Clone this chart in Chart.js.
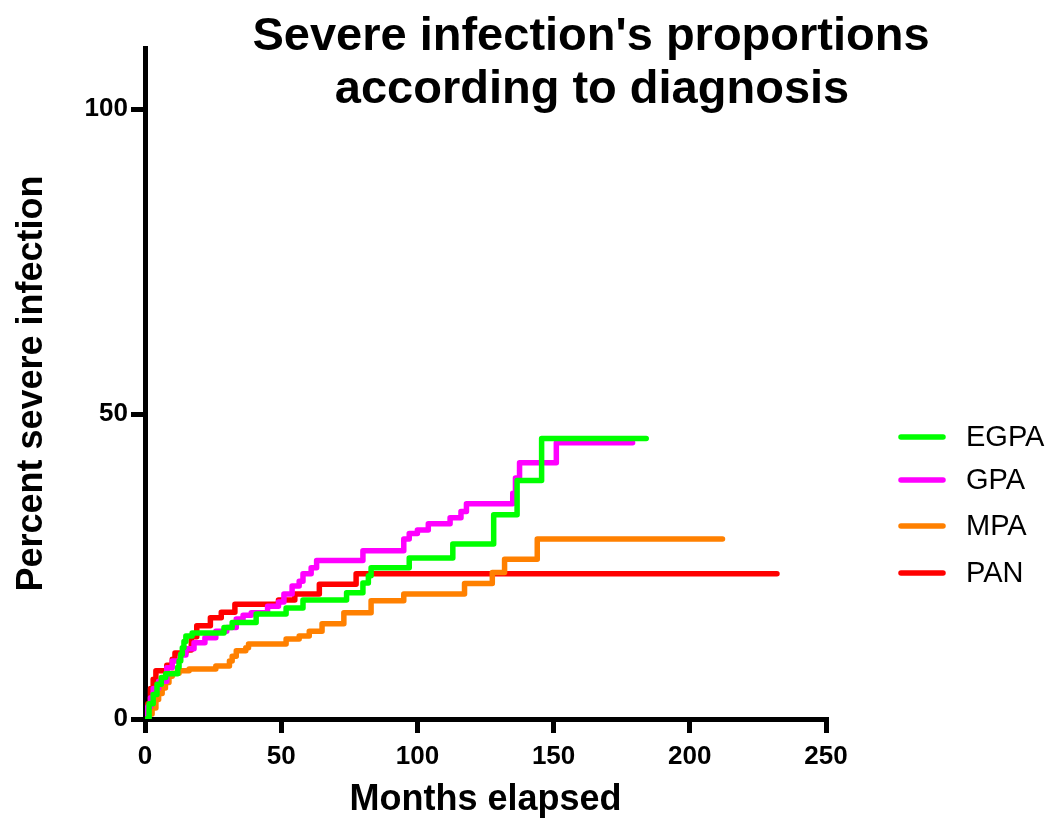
<!DOCTYPE html>
<html>
<head>
<meta charset="utf-8">
<title>Severe infection's proportions according to diagnosis</title>
<script src="https://cdn.jsdelivr.net/npm/chart.js@4.4.1/dist/chart.umd.min.js"></script>
<style>
  html, body { margin: 0; padding: 0; background: #fff; }
  #wrap { width: 1057px; height: 823px; }
</style>
</head>
<body>
<div id="wrap"><canvas id="grafico" width="1057" height="823"></canvas></div>
<script>
// Datos (meses, porcentaje acumulado)
const egpaMonths  = [0, 1.5, 3, 4.4, 6, 7.6, 12, 12.5, 13.1, 13.7, 14.3, 15, 17.3, 29, 32, 40.8, 51.8, 58, 74, 80, 82, 83, 97, 113, 128, 136.6, 145.6, 184];
const egpaPercent = [0, 2.5, 4, 5.7, 6.8, 7.4, 8.5, 9.5, 10.6, 11.7, 12.7, 13.6, 14.1, 15, 15.8, 17.2, 18.2, 19.5, 20.7, 22.3, 23.5, 24.8, 26.4, 28.7, 33.5, 39.1, 46, 46];

const gpaMonths  = [0, 1, 2, 3, 5, 8, 10, 13, 15, 18, 22, 26, 30, 33.5, 36, 39, 45, 49, 51, 54, 56.6, 58, 61, 63, 80, 95, 97, 100, 104, 112, 116, 118, 135, 136, 137.5, 151, 179];
const gpaPercent = [0, 2, 3.5, 5, 6.2, 8.4, 9.5, 10.5, 11.5, 12.5, 13.3, 14.4, 15, 16.4, 17, 17.4, 18.5, 19.2, 20.5, 21.8, 22.6, 23.8, 24.8, 26, 27.6, 29.5, 30.4, 31, 32, 33, 34, 35.3, 37, 39.5, 42, 45.3, 45.3];

const mpaMonths  = [0, 1, 2.6, 4, 5, 6.3, 7.5, 8.8, 10, 12.5, 16.2, 26, 31, 32, 33.5, 37, 38, 51.8, 56.6, 60.3, 65, 73, 83, 95, 117.3, 127.5, 132, 144, 212];
const mpaPercent = [0, 0.8, 1.8, 3.2, 4.2, 5.1, 6, 7, 7.5, 7.9, 8.2, 8.7, 9.5, 10.3, 11.2, 11.7, 12.3, 13.1, 13.6, 14.4, 15.6, 17.4, 19.4, 20.5, 22.2, 24, 26.2, 29.5, 29.5];

const panMonths  = [0, 1, 2, 3, 4, 8, 10, 11, 15, 17, 19, 24, 28, 33, 49, 55, 64, 77.5, 232];
const panPercent = [0, 2.5, 5, 6.5, 7.9, 8.8, 9.8, 10.8, 11.3, 13.5, 15.3, 16.6, 17.5, 18.8, 19.5, 20.5, 22.1, 23.8, 23.8];

const xTicks = [0, 50, 100, 150, 200, 250];
const yTicks = [0, 50, 100];

const fuente = "'Liberation Sans', Arial, Helvetica, sans-serif";

function puntos(meses, valores) {
  return meses.map((m, i) => ({ x: m, y: valores[i] }));
}

function serie(label, color, meses, valores) {
  return {
    label: label,
    data: puntos(meses, valores),
    borderColor: color,
    backgroundColor: color,
    borderWidth: 5.5,
    stepped: true,
    pointRadius: 0,
    borderCapStyle: "round",
    borderJoinStyle: "round",
    fill: false
  };
}

// Titulo en dos lineas, centrado como en el original
const tituloPlugin = {
  id: "tituloPlugin",
  afterDraw(chart) {
    const ctx = chart.ctx;
    ctx.save();
    ctx.fillStyle = "#000";
    ctx.font = "bold 47px " + fuente;
    ctx.textAlign = "center";
    ctx.textBaseline = "alphabetic";
    ctx.fillText("Severe infection's proportions", 591, 50);
    ctx.fillText("according to diagnosis", 592, 103);
    ctx.restore();
  }
};

// Leyenda a la derecha con muestras de linea
const leyendaPlugin = {
  id: "leyendaPlugin",
  afterDraw(chart) {
    const ctx = chart.ctx;
    const filas = [437, 480, 526, 573];
    ctx.save();
    chart.data.datasets.forEach((ds, i) => {
      const y = filas[i];
      ctx.strokeStyle = ds.borderColor;
      ctx.lineWidth = 5.5;
      ctx.lineCap = "round";
      ctx.beginPath();
      ctx.moveTo(901, y);
      ctx.lineTo(943, y);
      ctx.stroke();
      ctx.fillStyle = "#000";
      ctx.font = "29px " + fuente;
      ctx.textAlign = "left";
      ctx.textBaseline = "middle";
      ctx.fillText(ds.label, 966, y + 1);
    });
    ctx.restore();
  }
};

const ctx = document.getElementById("grafico").getContext("2d");
new Chart(ctx, {
  type: "line",
  data: {
    datasets: [
      serie("EGPA", "#00ff00", egpaMonths, egpaPercent),
      serie("GPA", "#ff00ff", gpaMonths, gpaPercent),
      serie("MPA", "#ff8000", mpaMonths, mpaPercent),
      serie("PAN", "#ff0000", panMonths, panPercent)
    ]
  },
  options: {
    responsive: false,
    animation: false,
    layout: { padding: { top: 48, right: 231, left: 0, bottom: 0 } },
    plugins: {
      legend: { display: false },
      title: { display: false },
      tooltip: { enabled: false }
    },
    scales: {
      x: {
        type: "linear",
        min: 0,
        max: 250,
        afterBuildTicks: s => { s.ticks = xTicks.map(v => ({ value: v })); },
        afterFit: s => { s.height = 104; },
        border: { display: true, color: "#000", width: 5 },
        grid: { drawOnChartArea: false, color: "#000", lineWidth: 5, tickLength: 14 },
        ticks: {
          color: "#000",
          padding: 8,
          maxRotation: 0,
          font: { family: fuente, size: 26, weight: "bold" }
        },
        title: {
          display: true,
          text: "Months elapsed",
          color: "#000",
          padding: { top: 0, bottom: 1 },
          font: { family: fuente, size: 36, weight: "bold" }
        }
      },
      y: {
        type: "linear",
        min: 0,
        max: 110,
        afterBuildTicks: s => { s.ticks = yTicks.map(v => ({ value: v })); },
        afterFit: s => { s.width = 145; },
        border: { display: true, color: "#000", width: 5 },
        grid: { drawOnChartArea: false, color: "#000", lineWidth: 5, tickLength: 14 },
        ticks: {
          color: "#000",
          padding: 3,
          font: { family: fuente, size: 26, weight: "bold" }
        },
        title: {
          display: true,
          text: "Percent severe infection",
          color: "#000",
          padding: { top: 10, bottom: 0 },
          font: { family: fuente, size: 36, weight: "bold" }
        }
      }
    }
  },
  plugins: [tituloPlugin, leyendaPlugin]
});
</script>
</body>
</html>
